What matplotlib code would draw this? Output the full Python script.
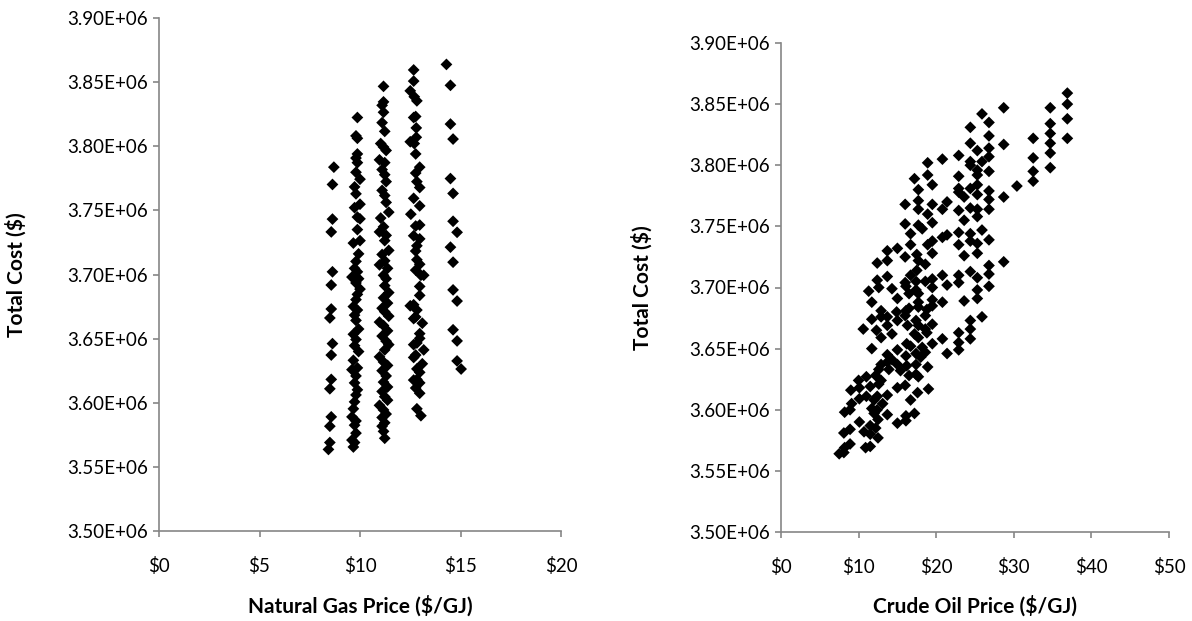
import matplotlib
matplotlib.use("Agg")
import matplotlib.pyplot as plt
from matplotlib.ticker import FuncFormatter, MultipleLocator

plt.rcParams["font.family"] = ["Lato", "DejaVu Sans"]

# Left panel: natural gas price ($/GJ) vs total cost ($M)
gas_price = [
    8.70, 8.63, 8.63, 8.57, 8.63, 8.57, 8.57, 8.50, 8.63, 8.57, 8.57, 8.50, 8.57, 8.50, 8.50, 8.43,
    9.87, 9.80, 9.87, 9.87, 9.80, 9.87, 9.80, 10.00, 9.73, 9.80, 10.00, 9.73, 9.87, 10.00, 9.87, 10.00,
    9.67, 9.93, 9.80, 9.73, 9.87, 9.60, 9.93, 9.80, 10.00, 9.87, 9.80, 9.67, 9.87, 9.73, 9.80, 9.93,
    9.67, 9.80, 9.73, 9.93, 9.67, 9.87, 9.60, 9.80, 9.73, 9.87, 9.80, 9.73, 9.67, 9.60, 9.80, 9.73,
    9.80, 9.60, 9.73, 9.67,
    11.17, 11.17, 11.10, 11.17, 11.10, 11.23, 11.03, 11.17, 11.30, 10.97, 11.23, 11.10, 11.23, 11.30,
    11.10, 11.23, 11.30, 11.43, 11.03, 11.17, 10.97, 11.30, 11.23, 11.43, 11.10, 11.23, 10.97, 11.37,
    11.17, 11.30, 11.23, 11.43, 11.17, 11.37, 11.10, 11.23, 11.43, 10.97, 11.17, 11.37, 11.10, 11.30,
    11.43, 11.23, 10.97, 11.17, 11.37, 11.10, 11.30, 11.17, 11.37, 11.10, 11.23, 11.37, 10.97, 11.17,
    11.30, 11.10, 11.23, 11.10, 11.17, 11.23,
    12.67, 12.67, 12.50, 12.70, 12.83, 12.77, 12.67, 12.80, 12.80, 12.50, 12.70, 12.77, 12.97, 12.77,
    12.83, 12.97, 12.67, 12.97, 12.53, 12.97, 12.77, 12.67, 12.97, 12.83, 12.77, 12.83, 12.97, 12.77,
    13.03, 13.17, 12.97, 12.97, 12.67, 12.50, 12.83, 12.77, 12.67, 13.10, 12.97, 12.97, 12.67, 12.83,
    13.17, 12.77, 12.67, 13.10, 12.83, 12.97, 12.83, 12.67, 12.97, 12.77, 12.97, 12.83, 13.03,
    14.30, 14.50, 14.50, 14.63, 14.50, 14.63, 14.63, 14.83, 14.50, 14.63, 14.63, 14.83, 14.63, 14.83,
    14.83, 15.03,
]
gas_cost = [
    3.7837, 3.7702, 3.7432, 3.7332, 3.7021, 3.6918, 3.6731, 3.6661, 3.6461, 3.6372, 3.6182, 3.6109,
    3.5890, 3.5817, 3.5690, 3.5636,
    3.8224, 3.8081, 3.8062, 3.7940, 3.7908, 3.7872, 3.7797, 3.7743, 3.7683, 3.7629, 3.7548, 3.7521,
    3.7448, 3.7434, 3.7350, 3.7264, 3.7245, 3.7161, 3.7102, 3.7048, 3.7021, 3.6980, 3.6967, 3.6934,
    3.6886, 3.6845, 3.6804, 3.6750, 3.6723, 3.6683, 3.6642, 3.6575, 3.6534, 3.6493, 3.6445, 3.6399,
    3.6331, 3.6272, 3.6258, 3.6209, 3.6155, 3.6101, 3.6061, 3.6007, 3.5953, 3.5890, 3.5858, 3.5825,
    3.5763, 3.5709, 3.5690, 3.5655,
    3.8467, 3.8346, 3.8319, 3.8265, 3.8184, 3.8116, 3.8021, 3.7994, 3.7967, 3.7894, 3.7872, 3.7818,
    3.7778, 3.7724, 3.7656, 3.7616, 3.7562, 3.7486, 3.7440, 3.7372, 3.7332, 3.7305, 3.7264, 3.7188,
    3.7156, 3.7107, 3.7075, 3.7048, 3.6994, 3.6967, 3.6913, 3.6859, 3.6818, 3.6777, 3.6737, 3.6710,
    3.6675, 3.6629, 3.6602, 3.6561, 3.6520, 3.6480, 3.6453, 3.6412, 3.6358, 3.6318, 3.6291, 3.6250,
    3.6209, 3.6161, 3.6123, 3.6088, 3.6047, 3.6020, 3.5980, 3.5944, 3.5912, 3.5885, 3.5844, 3.5817,
    3.5777, 3.5723,
    3.8595, 3.8508, 3.8432, 3.8386, 3.8354, 3.8232, 3.8224, 3.8143, 3.8070, 3.8035, 3.8021, 3.7940,
    3.7837, 3.7791, 3.7724, 3.7678, 3.7594, 3.7535, 3.7470, 3.7386, 3.7378, 3.7302, 3.7278, 3.7224,
    3.7183, 3.7115, 3.7080, 3.7034, 3.6994, 3.6994, 3.6907, 3.6837, 3.6764, 3.6756, 3.6723, 3.6669,
    3.6656, 3.6620, 3.6539, 3.6502, 3.6453, 3.6466, 3.6412, 3.6372, 3.6353, 3.6304, 3.6264, 3.6237,
    3.6182, 3.6177, 3.6155, 3.6115, 3.6074, 3.5953, 3.5899,
    3.8638, 3.8475, 3.8173, 3.8056, 3.7748, 3.7632, 3.7415, 3.7329, 3.7213, 3.7096, 3.6880, 3.6793,
    3.6569, 3.6482, 3.6326, 3.6263,
]

# Right panel: crude oil price ($/GJ) vs total cost ($M)
oil_price = [
    36.9, 36.9, 28.7, 34.7, 25.9, 36.9, 26.8, 34.7, 24.4, 34.7, 26.8, 36.9, 32.5, 24.4, 28.7, 34.7,
    25.3, 26.8, 34.7, 20.8, 22.9, 26.8, 32.5, 24.4, 25.9, 18.9, 24.4, 25.3, 34.7, 18.9, 22.9, 26.8,
    32.5, 25.3, 17.2, 19.5, 25.3, 24.4, 30.4, 32.5, 17.7, 22.9, 22.9, 26.8, 25.3, 23.6, 28.7, 26.8,
    16.0, 17.7, 19.5, 21.4, 22.9, 24.4, 25.3, 26.8, 17.7, 20.8, 25.3, 18.9, 23.6, 16.0, 19.5, 17.7,
    18.2, 16.7, 20.8, 21.4, 22.9, 24.4, 25.9, 26.8, 19.5, 24.4, 15.0, 16.7, 18.9, 22.9, 25.3, 25.3,
    13.7, 17.5, 19.5, 23.6, 16.0, 17.7, 12.4, 13.7, 18.6, 17.5, 28.7, 26.8, 20.8, 22.9, 24.4, 26.8,
    13.7, 12.4, 16.7, 19.5, 18.6, 21.4, 22.9, 25.3, 16.0, 17.4, 12.6, 11.3, 14.3, 16.1, 17.4, 19.5,
    26.8, 25.3, 16.5, 17.7, 15.0, 11.7, 17.7, 19.5, 20.8, 23.6, 25.3, 12.9, 13.7, 14.9, 16.1, 16.5,
    17.7, 18.8, 19.5, 11.7, 12.9, 15.0, 16.0, 17.4, 18.6, 25.9, 10.6, 12.3, 13.7, 16.3, 17.7, 18.6,
    19.5, 24.4, 24.4, 14.3, 12.9, 17.2, 17.7, 18.8, 16.2, 22.9, 20.8, 24.4, 22.9, 11.7, 15.0, 16.7,
    18.2, 19.5, 17.4, 18.6, 18.0, 13.7, 21.4, 22.9, 16.1, 13.7, 14.3, 12.9, 15.0, 16.2, 17.4, 18.9,
    12.6, 13.9, 15.4, 17.4, 11.0, 12.2, 10.0, 12.9, 16.5, 17.7, 9.0, 10.1, 11.5, 12.6, 15.0, 16.0,
    19.0, 13.7, 12.4, 17.6, 10.1, 11.0, 12.0, 16.7, 9.1, 11.7, 13.1, 12.4, 8.2, 8.9, 12.0, 13.7,
    17.2, 16.1, 10.1, 12.5, 15.0, 16.1, 11.5, 8.9, 8.1, 10.7, 12.2, 11.5, 8.9, 12.5, 8.2, 10.9,
    11.5, 7.5, 8.1,
]
oil_cost = [
    3.859, 3.850, 3.847, 3.847, 3.842, 3.838, 3.835, 3.834, 3.831, 3.826, 3.824, 3.822, 3.822, 3.818,
    3.817, 3.818, 3.812, 3.814, 3.810, 3.805, 3.808, 3.807, 3.806, 3.803, 3.803, 3.802, 3.800, 3.796,
    3.798, 3.792, 3.791, 3.795, 3.795, 3.792, 3.789, 3.784, 3.784, 3.781, 3.783, 3.787, 3.780, 3.781,
    3.778, 3.779, 3.776, 3.774, 3.774, 3.772, 3.768, 3.771, 3.768, 3.770, 3.763, 3.765, 3.764, 3.764,
    3.764, 3.764, 3.758, 3.760, 3.755, 3.752, 3.753, 3.751, 3.748, 3.744, 3.741, 3.743, 3.745, 3.744,
    3.747, 3.739, 3.738, 3.738, 3.732, 3.735, 3.735, 3.735, 3.736, 3.728, 3.730, 3.727, 3.728, 3.726,
    3.725, 3.722, 3.720, 3.722, 3.719, 3.714, 3.721, 3.718, 3.710, 3.710, 3.713, 3.711, 3.709, 3.706,
    3.710, 3.707, 3.705, 3.702, 3.704, 3.708, 3.704, 3.705, 3.700, 3.697, 3.699, 3.701, 3.698, 3.700,
    3.701, 3.698, 3.695, 3.695, 3.691, 3.688, 3.688, 3.690, 3.688, 3.689, 3.691, 3.681, 3.676, 3.680,
    3.681, 3.683, 3.684, 3.682, 3.685, 3.674, 3.676, 3.673, 3.677, 3.673, 3.677, 3.676, 3.666, 3.665,
    3.669, 3.669, 3.669, 3.666, 3.670, 3.673, 3.666, 3.662, 3.659, 3.662, 3.659, 3.663, 3.654, 3.663,
    3.658, 3.658, 3.655, 3.650, 3.649, 3.652, 3.651, 3.654, 3.646, 3.647, 3.643, 3.645, 3.646, 3.649,
    3.644, 3.639, 3.641, 3.637, 3.637, 3.636, 3.637, 3.635, 3.633, 3.633, 3.632, 3.629, 3.627, 3.628,
    3.624, 3.624, 3.628, 3.627, 3.616, 3.618, 3.619, 3.621, 3.618, 3.620, 3.617, 3.612, 3.611, 3.614,
    3.609, 3.611, 3.608, 3.608, 3.605, 3.601, 3.605, 3.600, 3.598, 3.600, 3.597, 3.596, 3.597, 3.595,
    3.590, 3.592, 3.589, 3.591, 3.587, 3.584, 3.581, 3.582, 3.585, 3.580, 3.572, 3.577, 3.569, 3.569,
    3.570, 3.564, 3.565,
]

W, H = 1192, 621
AXIS_GRAY = "#868686"


def style_axes(ax, xmax, xstep, xlabel):
    ax.set_xlim(0, xmax)
    ax.set_ylim(3.50e6, 3.90e6)
    ax.xaxis.set_major_locator(MultipleLocator(xstep))
    ax.yaxis.set_major_locator(MultipleLocator(0.05e6))
    ax.xaxis.set_major_formatter(FuncFormatter(lambda v, p: "${:.0f}".format(v)))
    ax.yaxis.set_major_formatter(FuncFormatter(lambda v, p: "{:.2E}".format(v)))
    ax.spines[["top", "right"]].set_visible(False)
    for s in ("left", "bottom"):
        ax.spines[s].set_color(AXIS_GRAY)
        ax.spines[s].set_linewidth(1.2)
    ax.tick_params(axis="both", direction="out", length=4, width=1.2, color=AXIS_GRAY,
                   labelsize=13.5, labelcolor="black")
    ax.tick_params(axis="x", pad=15)
    ax.tick_params(axis="y", pad=4)
    ax.set_xlabel(xlabel, fontsize=15, fontweight="bold")
    ax.set_ylabel("Total Cost ($)", fontsize=15, fontweight="bold")
    ax.set_facecolor("none")


fig = plt.figure(figsize=(W / 100, H / 100), dpi=100)

# axes placed by pixel box (left, top, right, bottom)
def px_axes(l, t, r, b):
    return fig.add_axes([l / W, (H - b) / H, (r - l) / W, (b - t) / H])

ax1 = px_axes(159, 18, 561, 531)
ax1.scatter(gas_price, [c * 1e6 for c in gas_cost], marker="D", s=36, color="black",
            edgecolors="none", clip_on=False, zorder=3)
style_axes(ax1, 20, 5, "Natural Gas Price ($/GJ)")
ax1.xaxis.set_label_coords(0.5, -0.125)
ax1.yaxis.set_label_coords(-0.33, 0.5)

ax2 = px_axes(781, 43, 1169, 532)
ax2.scatter(oil_price, [c * 1e6 for c in oil_cost], marker="D", s=36, color="black",
            edgecolors="none", clip_on=False, zorder=3)
style_axes(ax2, 50, 10, "Crude Oil Price ($/GJ)")
ax2.xaxis.set_label_coords(0.5, -0.13)
ax2.yaxis.set_label_coords(-0.33, 0.5)

fig.savefig("out.png", dpi=100)
